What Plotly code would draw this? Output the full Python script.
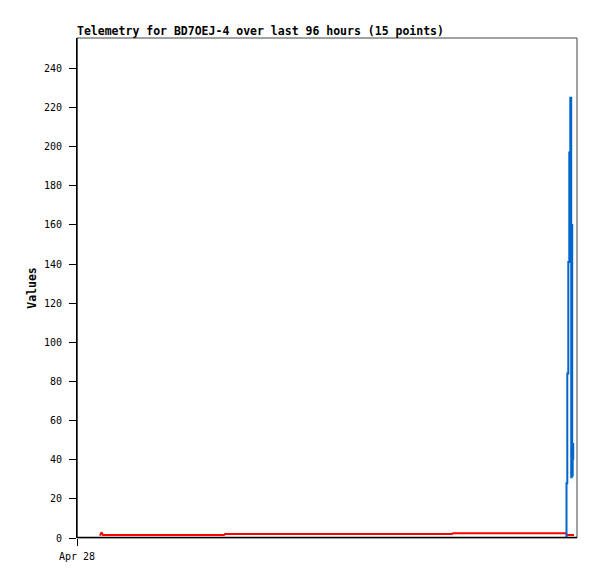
import plotly.graph_objects as go

# x in hours since Apr 28 00:00
red_x = [1.104, 1.176, 1.248, 7.056, 7.104, 18.0, 18.048, 23.472, 23.52, 23.856]
red_y = [1.2, 2.9, 1.5, 1.5, 2.0, 2.0, 2.4, 2.4, 1.5, 1.5]

blue_x = [23.496, 23.534, 23.582, 23.630, 23.678, 23.722, 23.746, 23.770, 23.794, 23.818, 23.842]
blue_y = [0, 28, 84, 141, 197, 225, 31, 160, 32, 48, 40]

x_tickvals = [0]
x_ticktext = ["Apr 28"]
title_text = "Telemetry for BD7OEJ-4 over last 96 hours (15 points)"

MONO = "DejaVu Sans Mono, Liberation Mono, monospace"

# page body has an 8px margin, so the figure is sized/positioned to compensate
W, H = 589, 571

fig = go.Figure()
fig.add_trace(go.Scatter(x=red_x, y=red_y, mode="lines",
                         line=dict(color="#ff0000", width=2), showlegend=False))
fig.add_trace(go.Scatter(x=blue_x, y=blue_y, mode="lines",
                         line=dict(color="#0066cc", width=2, shape="vh"),
                         showlegend=False))

fig.update_layout(
    width=W, height=H,
    margin=dict(l=69, r=20, t=30, b=41),
    paper_bgcolor="white", plot_bgcolor="white",
    title=dict(text="<b>" + title_text + "</b>", x=69/W, xanchor="left",
               xref="container", y=1 - 23/H, yref="container", yanchor="middle",
               font=dict(family=MONO, size=11.5, color="black")),
    xaxis=dict(range=[0, 24], tickvals=x_tickvals, ticktext=x_ticktext,
               showgrid=False, zeroline=False, showline=False,
               ticks="outside", ticklen=7, tickcolor="black",
               ticklabelstandoff=2,
               tickfont=dict(family=MONO, size=10, color="black")),
    yaxis=dict(range=[0, 255.5], dtick=20, showgrid=False, zeroline=False,
               showline=True, linecolor="black", linewidth=1,
               ticks="outside", ticklen=7, tickcolor="black",
               ticklabelstandoff=5,
               tickfont=dict(family=MONO, size=10, color="black"),
               title=dict(text="<b>Values</b>", standoff=4,
                          font=dict(family=MONO, size=11.5, color="black"))),
    shapes=[
        dict(type="rect", xref="paper", yref="paper", x0=0, x1=1, y0=0, y1=1,
             line=dict(color="#444444", width=1), layer="below"),
        dict(type="line", xref="paper", yref="y", x0=0, x1=1, y0=0, y1=0,
             line=dict(color="black", width=2.5), layer="above"),
        dict(type="line", xref="paper", yref="paper", x0=0, x1=0, y0=0, y1=1,
             line=dict(color="black", width=1), layer="above"),
    ],
)

fig.write_html("out.html")
